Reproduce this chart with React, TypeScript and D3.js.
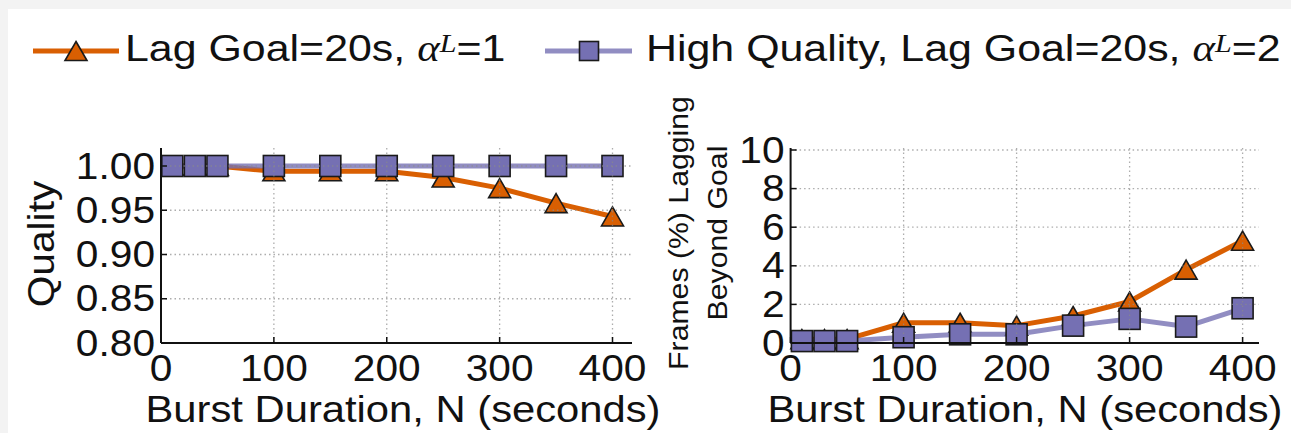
import React, { useEffect } from "react";
import * as d3 from "d3";

const burst = [10, 30, 50, 100, 150, 200, 250, 300, 350, 400];
const qualityLag = [1.0, 1.0, 1.0, 0.994, 0.994, 0.994, 0.987, 0.975, 0.958, 0.943];
const qualityHQ = [1.0, 1.0, 1.0, 1.0, 1.0, 1.0, 1.0, 1.0, 1.0, 1.0];
const framesLag = [0.2, 0.2, 0.2, 1.05, 1.05, 0.9, 1.4, 2.15, 3.8, 5.3];
const framesHQ = [0.1, 0.1, 0.1, 0.3, 0.45, 0.45, 0.9, 1.25, 0.85, 1.8];
const xTicks = [0, 100, 200, 300, 400];
const qTicks = [0.8, 0.85, 0.9, 0.95, 1.0];
const fTicks = [0, 2, 4, 6, 8, 10];
const legendLabels = ["Lag Goal=20s, ", "High Quality, Lag Goal=20s, "];
const legendTails = ["=1", "=2"];

const ORANGE = "#D95F02";
const PURPLE = "#7570B3";
const SANS = "'Liberation Sans', Arial, Helvetica, sans-serif";
const SERIF = "'Liberation Serif', 'Times New Roman', serif";
const SX = 1.13;
const LSX = 1.16;

function T({ x, y, rot = 0, size = 36, anchor = "middle", sx = SX, children }: any) {
  return (
    <text
      transform={`translate(${x},${y}) rotate(${rot}) scale(${sx},1)`}
      fontSize={size}
      fontFamily={SANS}
      textAnchor={anchor}
      fill="#111"
    >
      {children}
    </text>
  );
}

function Tri({ cx, cy, w = 22, h = 19 }: any) {
  const p = d3.path();
  p.moveTo(cx, cy - h / 2);
  p.lineTo(cx + w / 2, cy + h / 2);
  p.lineTo(cx - w / 2, cy + h / 2);
  p.closePath();
  return <path d={p.toString()} fill={ORANGE} stroke="#1a1a1a" strokeWidth={1.6} strokeLinejoin="miter" />;
}

function Sq({ cx, cy, s = 21 }: any) {
  return <rect x={cx - s / 2} y={cy - s / 2} width={s} height={s} fill={PURPLE} stroke="#1a1a1a" strokeWidth={1.6} />;
}

function Panel({ x, y, xEnd, yTop, yTicks, fmt, lagVals, hqVals }: any) {
  const [x0] = x.range();
  const yBottom = y.range()[0];
  const lineGen = (vals: number[]) =>
    d3
      .line<number>()
      .x((_, i) => x(burst[i]))
      .y((v) => y(v))(vals) as string;
  return (
    <g>
      <path d={lineGen(lagVals)} fill="none" stroke={ORANGE} strokeWidth={5} strokeLinejoin="round" />
      {lagVals.map((v: number, i: number) => (
        <Tri key={"t" + i} cx={x(burst[i])} cy={y(v)} />
      ))}
      <path d={lineGen(hqVals)} fill="none" stroke={PURPLE} strokeOpacity={0.8} strokeWidth={5} strokeLinejoin="round" />
      {hqVals.map((v: number, i: number) => (
        <Sq key={"s" + i} cx={x(burst[i])} cy={y(v)} />
      ))}
      {yTicks.slice(1).map((t: number) => (
        <line key={"gy" + t} x1={x0} x2={xEnd} y1={y(t)} y2={y(t)} stroke="#8a8a8a" strokeOpacity={0.7} strokeWidth={1.3} strokeDasharray="1.5,3" />
      ))}
      {xTicks.slice(1).map((t) => (
        <line key={"gx" + t} x1={x(t)} x2={x(t)} y1={yBottom} y2={yTop} stroke="#8a8a8a" strokeOpacity={0.7} strokeWidth={1.3} strokeDasharray="1.5,3" />
      ))}
      <line x1={x0} x2={x0} y1={yBottom} y2={yTop} stroke="#111" strokeWidth={2} />
      <line x1={x0} x2={xEnd} y1={yBottom} y2={yBottom} stroke="#111" strokeWidth={2} />
      {yTicks.map((t: number) => (
        <line key={"ty" + t} x1={x0} x2={x0 + 6} y1={y(t)} y2={y(t)} stroke="#111" strokeWidth={1.5} />
      ))}
      {xTicks.map((t) => (
        <line key={"tx" + t} x1={x(t)} x2={x(t)} y1={yBottom} y2={yBottom - 6} stroke="#111" strokeWidth={1.5} />
      ))}
      {yTicks.map((t: number) => (
        <T key={"ly" + t} x={x0 - 6} y={y(t) + 12.5} anchor="end">
          {fmt(t)}
        </T>
      ))}
      {xTicks.map((t) => (
        <T key={"lx" + t} x={x(t)} y={yBottom + 38}>
          {String(t)}
        </T>
      ))}
    </g>
  );
}

export default function App() {
  useEffect(() => {
    document.body.style.margin = "0";
    document.body.style.background = "#ffffff";
  }, []);

  const W = 1291;
  const H = 433;

  const xL = d3.scaleLinear().domain([0, 400]).range([161, 612.5]);
  const yL = d3.scaleLinear().domain([0.8, 1.0]).range([343, 166]);
  const xR = d3.scaleLinear().domain([0, 400]).range([790.6, 1242.6]);
  const yR = d3.scaleLinear().domain([0, 10]).range([343, 150]);

  const f2 = d3.format(".2f");
  const f0 = d3.format("d");

  return (
    <svg width={W} height={H} style={{ position: "absolute", left: 0, top: 0, display: "block" }}>
      <rect x={0} y={0} width={W} height={H} fill="#f3f3f3" />
      <rect x={8} y={9} width={W - 8} height={H - 9} fill="#ffffff" />

      <g>
        <line x1={33} x2={119} y1={51} y2={51} stroke={ORANGE} strokeWidth={5} />
        <Tri cx={76} cy={51} />
        <text transform={`translate(125,61) scale(${LSX},1)`} fontSize={37} fontFamily={SANS} fill="#111">
          <tspan>{legendLabels[0]}</tspan>
          <tspan fontFamily={SERIF} fontStyle="italic" fontSize={37}>α</tspan>
          <tspan fontFamily={SERIF} fontStyle="italic" fontSize={26} dy={-9}>L</tspan>
          <tspan dy={9}>{legendTails[0]}</tspan>
        </text>

        <line x1={545} x2={632} y1={51} y2={51} stroke={PURPLE} strokeOpacity={0.8} strokeWidth={5} />
        <Sq cx={589} cy={51} s={19} />
        <text transform={`translate(646,61) scale(${LSX},1)`} fontSize={37} fontFamily={SANS} fill="#111">
          <tspan>{legendLabels[1]}</tspan>
          <tspan fontFamily={SERIF} fontStyle="italic" fontSize={37}>α</tspan>
          <tspan fontFamily={SERIF} fontStyle="italic" fontSize={26} dy={-9}>L</tspan>
          <tspan dy={9}>{legendTails[1]}</tspan>
        </text>
      </g>

      <Panel x={xL} y={yL} xEnd={632} yTop={148} yTicks={qTicks} fmt={f2} lagVals={qualityLag} hqVals={qualityHQ} />
      <Panel x={xR} y={yR} xEnd={1259} yTop={148} yTicks={fTicks} fmt={f0} lagVals={framesLag} hqVals={framesHQ} />

      <T x={54} y={244} rot={-90}>Quality</T>
      <T x={403} y={422} sx={1.16}>Burst Duration, N (seconds)</T>
      <T x={1025} y={422} sx={1.16}>Burst Duration, N (seconds)</T>
      <T x={688} y={233} rot={-90} size={28} sx={1.08}>Frames (%) Lagging</T>
      <T x={727} y={233} rot={-90} size={28} sx={1.08}>Beyond Goal</T>
    </svg>
  );
}
